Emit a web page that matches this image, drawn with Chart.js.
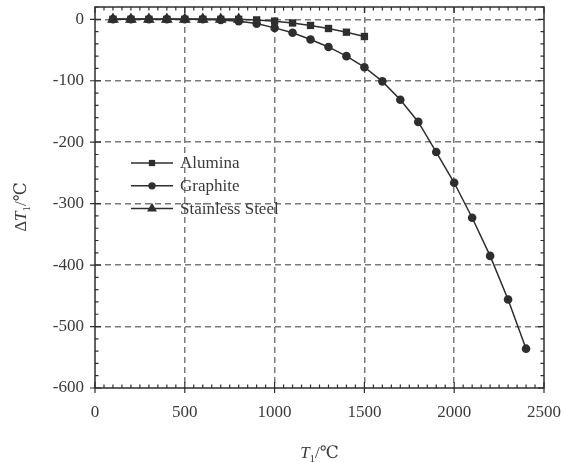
<!DOCTYPE html>
<html>
<head>
<meta charset="utf-8">
<script src="https://cdn.jsdelivr.net/npm/chart.js@4/dist/chart.umd.min.js"></script>
<style>
  html, body { margin: 0; padding: 0; background: #fff; }
  #wrap { width: 564px; height: 462px; }
</style>
</head>
<body>
<div id="wrap"><canvas id="c" width="564" height="462"></canvas></div>
<script>
// ─── DATOS ────────────────────────────────────────────────────────────────
const temps      = [100,200,300,400,500,600,700,800,900,1000,1100,1200,1300,1400,1500,
                    1600,1700,1800,1900,2000,2100,2200,2300,2400];
const alumina    = [0,0,0,0,0,0,0,0,-1,-3,-6,-10,-15,-21,-28];
const graphite   = [0,0,0,0,0,0,-1,-3,-7,-14,-22,-33,-45,-60,-78,
                    -101,-131,-167,-216,-266,-323,-385,-456,-536];
const stainless  = [0,0,0,0,0,0,0,0];
const seriesNames = ["Alumina", "Graphite", "Stainless Steel"];
const xTicks = [0, 500, 1000, 1500, 2000, 2500];
const yTicks = [0, -100, -200, -300, -400, -500, -600];

const INK  = "#2e2e2e";
const GRID = "#7a7a7a";
const SERIF = "'Liberation Serif', 'DejaVu Serif', serif";

const pts = (vals) => vals.map((v, i) => ({ x: temps[i], y: v }));

// ─── MARCO, TÍTULOS Y LEYENDA ────────────────────────────────────────────
const framePlugin = {
  id: "frame",
  afterDraw(chart) {
    const { ctx, chartArea: a, scales: { x, y } } = chart;
    ctx.save();
    ctx.strokeStyle = INK;
    ctx.lineWidth = 1.5;
    ctx.strokeRect(a.left, a.top, a.right - a.left, a.bottom - a.top);

    ctx.lineWidth = 1.2;
    ctx.beginPath();
    for (let v = 0; v <= 2500; v += 50) {
      const px = x.getPixelForValue(v);
      const major = v % 500 === 0;
      const len = major ? 6 : 3.5;
      ctx.moveTo(px, a.bottom + (major ? 5 : 0)); ctx.lineTo(px, a.bottom - len);
      ctx.moveTo(px, a.top); ctx.lineTo(px, a.top + len);
    }
    for (let v = -600; v <= 20; v += 20) {
      const py = y.getPixelForValue(v);
      const major = v % 100 === 0;
      const len = major ? 6 : 3.5;
      ctx.moveTo(a.left - (major ? 5 : 0), py); ctx.lineTo(a.left + len, py);
      ctx.moveTo(a.right, py); ctx.lineTo(a.right - len, py);
    }
    ctx.stroke();

    // Títulos de ejes con T en cursiva y subíndice
    const title = (cx, cy, rot) => {
      ctx.save();
      ctx.translate(cx, cy);
      ctx.rotate(rot);
      ctx.fillStyle = "#3a3a3a";
      ctx.textBaseline = "alphabetic";
      const parts = rot
        ? [["Δ", "17px " + SERIF, 0], ["T", "italic 17px " + SERIF, 0], ["1", "11px " + SERIF, 4], ["/℃", "17px " + SERIF, 0]]
        : [["T", "italic 17px " + SERIF, 0], ["1", "11px " + SERIF, 4], ["/℃", "17px " + SERIF, 0]];
      let w = 0;
      parts.forEach(p => { ctx.font = p[1]; w += ctx.measureText(p[0]).width; });
      let xx = -w / 2;
      parts.forEach(p => {
        ctx.font = p[1];
        ctx.fillText(p[0], xx, 6 + p[2]);
        xx += ctx.measureText(p[0]).width;
      });
      ctx.restore();
    };
    title((a.left + a.right) / 2, 452, 0);
    title(20, 207, -Math.PI / 2);

    // Leyenda: línea con marcador al centro
    chart.data.datasets.forEach((ds, i) => {
      const ly = 163 + i * 22.8;
      ctx.strokeStyle = ds.borderColor;
      ctx.lineWidth = ds.borderWidth;
      ctx.beginPath();
      ctx.moveTo(131, ly); ctx.lineTo(173, ly);
      ctx.stroke();
      ctx.fillStyle = ds.pointBackgroundColor;
      Chart.helpers.drawPoint(ctx, {
        pointStyle: ds.pointStyle,
        radius: ds.pointRadius * 0.85,
        borderWidth: 0,
        rotation: 0
      }, 152, ly);
      ctx.fillStyle = "#3a3a3a";
      ctx.font = "17px " + SERIF;
      ctx.textBaseline = "middle";
      ctx.fillText(ds.label, 180, ly + 1);
    });
    ctx.restore();
  }
};

// ─── GRÁFICO ─────────────────────────────────────────────────────────────
const mkSet = (label, vals, style, r, order) => ({
  label,
  data: pts(vals),
  showLine: true,
  borderColor: INK,
  borderWidth: 1.5,
  pointStyle: style,
  pointRadius: r,
  pointBackgroundColor: INK,
  pointBorderColor: INK,
  pointBorderWidth: 0,
  tension: 0,
  order
});

new Chart(document.getElementById("c"), {
  type: "scatter",
  data: {
    datasets: [
      mkSet(seriesNames[0], alumina,   "rect",     5.2, 2),
      mkSet(seriesNames[1], graphite,  "circle",   4.3, 3),
      mkSet(seriesNames[2], stainless, "triangle", 6.8, 1)
    ]
  },
  options: {
    responsive: false,
    animation: false,
    devicePixelRatio: 1,
    layout: { padding: { left: 0, right: 20, top: 7, bottom: 0 } },
    plugins: { legend: { display: false }, tooltip: { enabled: false } },
    scales: {
      x: {
        type: "linear",
        min: 0, max: 2500,
        afterBuildTicks: (s) => { s.ticks = xTicks.map(v => ({ value: v })); },
        afterFit: (s) => { s.height = 74; s.paddingLeft = 0; s.paddingRight = 0; },
        ticks: {
          color: "#3a3a3a", font: { family: SERIF, size: 17 }, padding: 14, maxRotation: 0,
          callback: (v) => String(v)
        },
        grid: {
          color: (c) => (c.tick && (c.tick.value === 0 || c.tick.value === 2500)) ? "rgba(0,0,0,0)" : GRID,
          lineWidth: 1.5,
          drawTicks: false
        },
        border: { display: false, dash: [6, 4] }
      },
      y: {
        type: "linear",
        min: -600, max: 20,
        afterBuildTicks: (s) => { s.ticks = yTicks.map(v => ({ value: v })); },
        afterFit: (s) => { s.width = 95; s.paddingTop = 0; s.paddingBottom = 0; },
        ticks: {
          color: "#3a3a3a", font: { family: SERIF, size: 17 }, padding: 11,
          callback: (v) => String(v)
        },
        grid: {
          color: (c) => (c.tick && c.tick.value === -600) ? "rgba(0,0,0,0)" : GRID,
          lineWidth: 1.5,
          drawTicks: false
        },
        border: { display: false, dash: [6, 4] }
      }
    }
  },
  plugins: [framePlugin]
});
</script>
</body>
</html>
